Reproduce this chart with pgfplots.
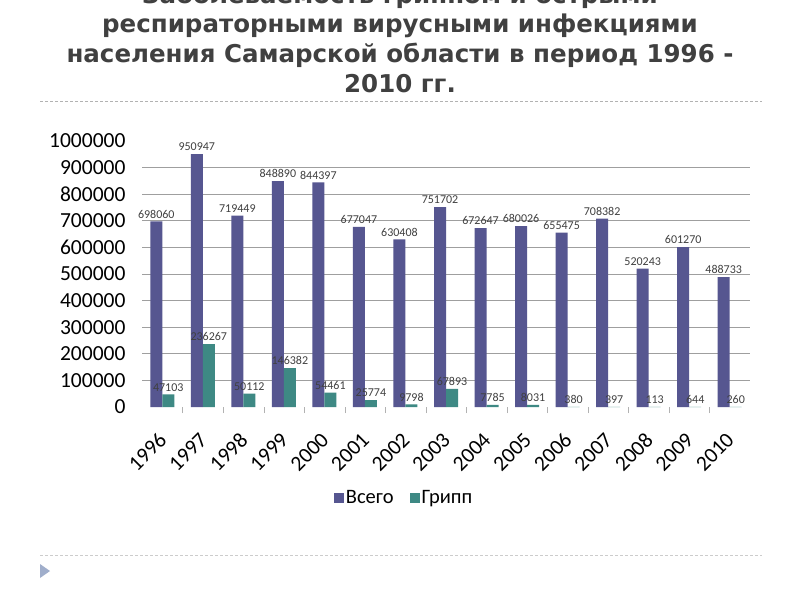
\documentclass[border=0pt]{standalone}
\usepackage{pgfplots}
\pgfplotsset{compat=1.18}
\usepackage{fontspec}
\setmainfont{Carlito}
\newfontfamily\titlefont{DejaVu Sans}
\definecolor{vsego}{RGB}{86,86,144}
\definecolor{gripp}{RGB}{62,137,132}
\definecolor{titlec}{RGB}{64,64,64}
\begin{document}
\begin{tikzpicture}
\useasboundingbox (0pt,0pt) rectangle (800pt,-600pt);
\clip (0pt,0pt) rectangle (800pt,-600pt);
\fill[white] (0pt,0pt) rectangle (800pt,-600pt);
\begin{scope}[every node/.style={anchor=base, inner sep=0pt, text=titlec, font=\titlefont\bfseries\fontsize{24.5}{30}\selectfont}]
\node at (400pt,-3pt) {Заболеваемость гриппом и острыми};
\node at (400pt,-32pt) {респираторными вирусными инфекциями};
\node at (400pt,-62pt) {населения Самарской области в период 1996 -};
\node at (400pt,-92pt) {2010 гг.};
\end{scope}
\draw[gray!60, dash pattern=on 3pt off 2pt] (40pt,-101pt) -- (762pt,-101pt);
\draw[gray!40, dash pattern=on 3pt off 2pt] (40pt,-555pt) -- (762pt,-555pt);
\fill[color={rgb,255:red,160;green,174;blue,203}] (40pt,-564pt) -- (50pt,-571pt) -- (40pt,-578pt) -- cycle;
\begin{axis}[
  at={(142pt,-407pt)}, anchor=south west,
  scale only axis, width=608pt, height=266pt,
  ybar=0pt, bar width=12pt,
  xmin=-0.5, xmax=14.5, ymin=0, ymax=1000000,
  xtick={0,...,14},
  xticklabels={1996,1997,1998,1999,2000,2001,2002,2003,2004,2005,2006,2007,2008,2009,2010},
  minor xtick={0.5,1.5,...,13.5},
  ytick={100000,200000,...,900000},
  extra y ticks={0,1000000},
  extra y tick style={grid=none},
  ymajorgrids, grid style={gray!75, line width=0.8pt},
  axis line style={draw=none},
  major tick length=0pt, minor tick length=6pt,
  minor tick style={gray!60}, tick align=outside,
  xtick pos=bottom, ytick pos=left,
  scaled y ticks=false,
  /pgf/number format/.cd, fixed, precision=0, 1000 sep={}, assume math mode=true,
  /pgfplots/.cd,
  yticklabel style={font=\fontsize{21.5}{24}\selectfont, anchor=east, xshift=-13pt},
  xticklabel style={font=\fontsize{21.5}{24}\selectfont, xshift=3pt, yshift=-27pt, rotate=45, anchor=east},
  nodes near coords,
  every node near coord/.append style={font=\fontsize{12}{14}\selectfont, text=black!75, inner sep=3pt},
  legend style={at={(0.431,-0.342)}, anchor=center, draw=none, fill=none, legend columns=2,
    font=\fontsize{20.5}{24}\selectfont,
    /tikz/every even column/.append style={column sep=14pt}},
  legend image code/.code={\fill[#1] (0pt,-5pt) rectangle (10pt,5pt);},
]
\addplot[fill=vsego, draw=none] coordinates {
(0,698060) (1,950947) (2,719449) (3,848890) (4,844397) (5,677047) (6,630408) (7,751702)
(8,672647) (9,680026) (10,655475) (11,708382) (12,520243) (13,601270) (14,488733)};
\addplot[fill=gripp, draw=none] coordinates {
(0,47103) (1,236267) (2,50112) (3,146382) (4,54461) (5,25774) (6,9798) (7,67893)
(8,7785) (9,8031) (10,380) (11,397) (12,113) (13,644) (14,260)};
\legend{Всего, Грипп}
\end{axis}
\end{tikzpicture}
\end{document}
